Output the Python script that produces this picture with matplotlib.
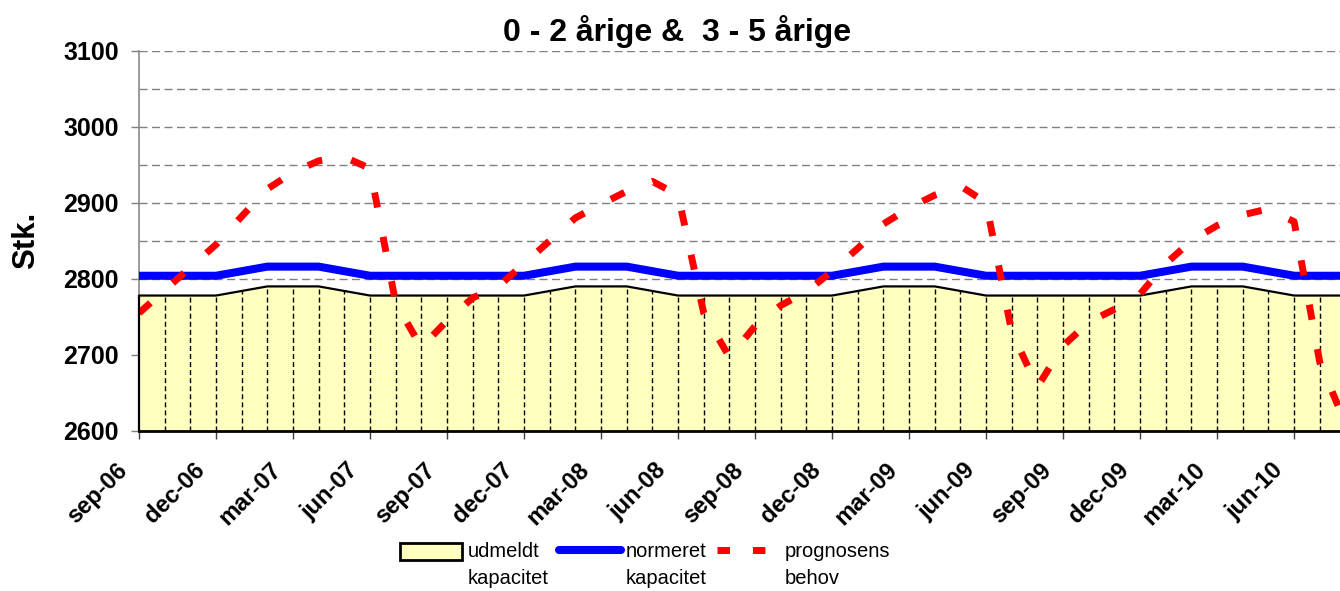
import matplotlib
matplotlib.use('Agg')
import matplotlib.pyplot as plt
import matplotlib.patches as mpatches
import matplotlib.transforms as mtransforms
from matplotlib.lines import Line2D
from matplotlib.legend_handler import HandlerPatch, HandlerLine2D

plt.rcParams['font.family'] = ['Liberation Sans', 'DejaVu Sans']

# månedlige værdier sep-06 .. aug-10
tick_labels = ['sep-06', 'dec-06', 'mar-07', 'jun-07', 'sep-07', 'dec-07', 'mar-08', 'jun-08',
               'sep-08', 'dec-08', 'mar-09', 'jun-09', 'sep-09', 'dec-09', 'mar-10', 'jun-10']

udmeldt = [2778, 2778, 2778, 2778, 2784, 2790, 2790, 2790, 2784, 2778, 2778, 2778,
           2778, 2778, 2778, 2778, 2784, 2790, 2790, 2790, 2784, 2778, 2778, 2778,
           2778, 2778, 2778, 2778, 2784, 2790, 2790, 2790, 2784, 2778, 2778, 2778,
           2778, 2778, 2778, 2778, 2784, 2790, 2790, 2790, 2784, 2778, 2778, 2778]

normeret = [2804, 2804, 2804, 2804, 2810, 2816, 2816, 2816, 2810, 2804, 2804, 2804,
            2804, 2804, 2804, 2804, 2810, 2816, 2816, 2816, 2810, 2804, 2804, 2804,
            2804, 2804, 2804, 2804, 2810, 2816, 2816, 2816, 2810, 2804, 2804, 2804,
            2804, 2804, 2804, 2804, 2810, 2816, 2816, 2816, 2810, 2804, 2804, 2804]

prognose = [2755, 2785, 2815, 2845, 2882, 2918, 2940, 2955, 2960, 2945, 2768, 2710,
            2745, 2775, 2790, 2820, 2850, 2880, 2898, 2915, 2928, 2910, 2755, 2697,
            2738, 2765, 2783, 2810, 2840, 2872, 2893, 2910, 2922, 2900, 2730, 2658,
            2712, 2743, 2760, 2780, 2820, 2850, 2870, 2884, 2892, 2875, 2690, 2610]

labels = ['udmeldt\nkapacitet', 'normeret\nkapacitet', 'prognosens\nbehov']

YELLOW = '#FFFFC0'
LIFT = 10.4  # flyt legend-symboler op til første tekstlinje


class PatchUp(HandlerPatch):
    def create_artists(self, legend, orig_handle, xdescent, ydescent, width, height, fontsize, trans):
        return super().create_artists(legend, orig_handle, xdescent, ydescent - LIFT,
                                      width, height, fontsize, trans)


class LineUp(HandlerLine2D):
    def create_artists(self, legend, orig_handle, xdescent, ydescent, width, height, fontsize, trans):
        return super().create_artists(legend, orig_handle, xdescent, ydescent - 2 * LIFT,
                                      width, height, fontsize, trans)


def main():
    x = list(range(len(prognose)))
    fig = plt.figure(figsize=(13.4, 5.91), dpi=100)
    ax = fig.add_axes([139 / 1340, 1 - 431 / 591, 1 - 139 / 1340, (431 - 50.5) / 591])

    # vandrette gitterlinjer
    for yv in range(2650, 3101, 50):
        ax.axhline(yv, color='#808080', lw=1.0, dashes=(5.8, 3.2), zorder=0)

    ax.fill_between(x, 2600, udmeldt, facecolor=YELLOW, edgecolor='none', zorder=1)
    ax.vlines(x[1:], 2600, udmeldt[1:], colors='black', lw=1.0,
              linestyles=(0, (3.6, 2.2)), zorder=2)
    ax.plot(x, udmeldt, color='black', lw=1.6, zorder=3)
    ax.plot(x, normeret, color='#0000FF', lw=5.8, solid_capstyle='round', zorder=4)
    ax.plot(x, prognose, color='#FF0000', lw=5.0, dashes=(2.2, 4.3),
            dash_capstyle='butt', zorder=5)

    ax.set_xlim(0, (1340 - 139) / 25.67)
    ax.set_ylim(2600, 3100)
    ax.set_xticks(range(0, 46, 3))
    ax.set_xticklabels(tick_labels, rotation=45, ha='right', va='top',
                       fontsize=17, fontweight='bold')
    ax.set_yticks(range(2600, 3101, 100))
    ax.set_yticklabels([str(v) for v in range(2600, 3101, 100)], fontsize=18, fontweight='bold')
    ax.tick_params(axis='y', length=5.8, width=1.0, color='#808080', pad=8.6)
    ax.tick_params(axis='x', length=5.8, width=1.0, color='#404040', pad=6)
    shift = mtransforms.ScaledTranslation(-7 / 100, -11 / 100, fig.dpi_scale_trans)
    for lab in ax.get_xticklabels():
        lab.set_transform(lab.get_transform() + shift)

    for side in ['top', 'right']:
        ax.spines[side].set_visible(False)
    ax.spines['left'].set_color('#808080')
    ax.spines['left'].set_linewidth(1.1)
    ax.spines['bottom'].set_color('black')
    ax.spines['bottom'].set_linewidth(2.0)
    ax.spines['bottom'].set_zorder(6)
    ax.plot([0, 0], [2600, udmeldt[0]], color='black', lw=1.6, zorder=6, clip_on=False)

    ax.set_ylabel('Stk.', fontsize=22.5, fontweight='bold')
    ax.yaxis.set_label_coords(-0.0816, 0.5)

    fig.text(677 / 1340, 1 - 31 / 591, '0 - 2 årige &  3 - 5 årige',
             ha='center', va='center', fontsize=23, fontweight='bold')

    handles = [mpatches.Patch(facecolor=YELLOW, edgecolor='black', lw=2.0),
               Line2D([], [], color='#0000FF', lw=5.8, solid_capstyle='round'),
               Line2D([], [], color='#FF0000', lw=5.0, dashes=(1.8, 3.3), dash_capstyle='butt')]
    leg = fig.legend(handles, labels, loc='upper left', bbox_to_anchor=(400 / 1340, 1 - 542 / 591),
                     ncol=3, frameon=False, borderaxespad=0, borderpad=0, fontsize=14.5,
                     handlelength=3.1, handleheight=0.92, handletextpad=0.25, columnspacing=0.5,
                     handler_map={mpatches.Patch: PatchUp(), Line2D: LineUp()})
    for t in leg.get_texts():
        t.set_linespacing(1.55)

    fig.savefig('out.png', dpi=100)


if __name__ == '__main__':
    main()
